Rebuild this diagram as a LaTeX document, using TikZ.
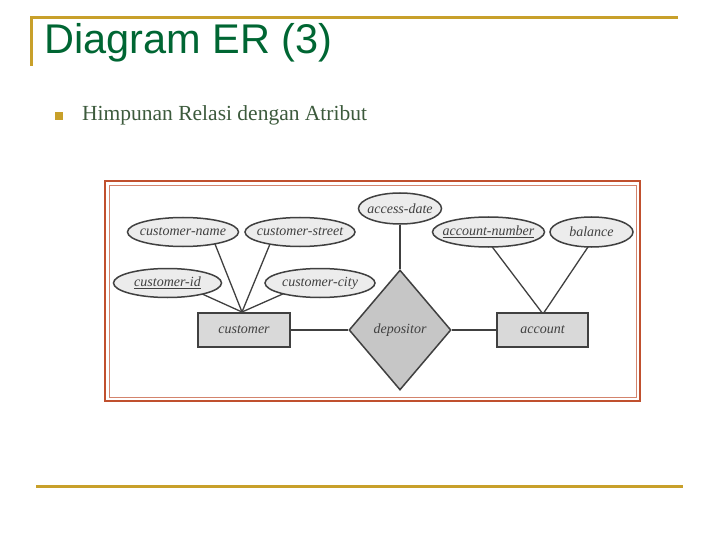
\documentclass[tikz,border=0pt]{standalone}
\usepackage{fontspec}
\setmainfont{Liberation Serif}
\newfontfamily\titlefont{Liberation Sans}
\usetikzlibrary{shapes.geometric}
\definecolor{gold}{HTML}{C8A02A}
\definecolor{titlegreen}{HTML}{006633}
\definecolor{bodygreen}{HTML}{3C5A3C}
\definecolor{frame}{HTML}{C0502E}
\definecolor{ink}{HTML}{404040}
\pgfdeclarelayer{bg}
\pgfdeclarelayer{links}
\pgfsetlayers{bg,links,main}
\tikzset{
  attr/.style={ellipse, draw=ink, line width=1.5pt, fill=gray!15, inner xsep=-20pt, inner ysep=0pt,
    minimum height=29pt, font=\fontsize{14}{14}\selectfont\itshape, text=ink},
  entity/.style={rectangle, draw=ink, line width=1.5pt, fill=gray!30, inner sep=0pt,
    minimum width=92pt, minimum height=34pt, font=\fontsize{14}{14}\selectfont\itshape, text=ink},
  rel/.style={diamond, draw=ink, line width=1.5pt, fill=gray!45, inner sep=0pt,
    minimum width=102pt, minimum height=120pt, font=\fontsize{14}{14}\selectfont\itshape, text=ink},
  link/.style={draw=ink, line width=1.3pt},
  goldline/.style={draw=gold, line width=3pt}
}
\begin{document}
\begin{tikzpicture}[x=1pt,y=-1pt]
\useasboundingbox (0,0) rectangle (720,540);
% slide decorations
\coordinate (tl) at (31,18);
\coordinate (tr) at (678,18);
\coordinate (tb) at (31,66);
\draw[goldline] (tr) -- (tl) -- (tb);
\coordinate (bl) at (36,486);
\coordinate (br) at (683,486);
\draw[goldline] (bl) -- (br);
\node[anchor=base west, inner sep=0pt, text=titlegreen, font=\titlefont\fontsize{41.5}{41.5}\selectfont] (title) at (44,54) {Diagram ER (3)};
\node[fill=gold, minimum size=8pt, inner sep=0pt] (bullet) at (59,116) {};
\node[anchor=base west, inner sep=0pt, text=bodygreen, font=\fontsize{21.5}{22}\selectfont] (sub) at (82,121) {Himpunan Relasi dengan Atribut};
% diagram frame
\begin{pgfonlayer}{bg}
\node[draw=frame, line width=2.5pt, fill=white, minimum width=535pt, minimum height=220pt, inner sep=0pt] (frameout) at (372.5,291) {};
\node[draw=frame!70, line width=0.8pt, minimum width=527pt, minimum height=212pt, inner sep=0pt] (framein) at (372.5,291) {};
\end{pgfonlayer}
% nodes
\node[attr, minimum width=111pt] (cname) at (183,232) {customer-name};
\node[attr, minimum width=110pt] (cstreet) at (300,232) {customer-street};
\node[attr, minimum width=108pt] (cid) at (167.5,283) {\underline{customer-id}};
\node[attr, minimum width=110pt] (ccity) at (320,283) {customer-city};
\node[attr, minimum width=83pt, minimum height=31pt] (adate) at (400,208.5) {access-date};
\node[attr, minimum width=112pt, minimum height=30pt] (anum) at (488.5,232) {\underline{account-number}};
\node[attr, minimum width=83pt, minimum height=30pt] (bal) at (591.5,232) {balance};
\node[entity] (cust) at (244,330) {customer};
\node[entity, minimum width=91pt] (acct) at (542.5,330) {account};
\node[rel] (dep) at (400,330) {depositor};
% connectors
\coordinate (ctop) at (242,312);
\coordinate (atop) at (543,314);
\coordinate (cn1) at (215,244);
\coordinate (cs1) at (270,244);
\coordinate (ci1) at (200,293);
\coordinate (cc1) at (285,293);
\coordinate (an1) at (490,244);
\coordinate (b1) at (590,244);
\begin{pgfonlayer}{links}
\draw[link] (cn1) -- (ctop);
\draw[link] (cs1) -- (ctop);
\draw[link] (ci1) -- (ctop);
\draw[link] (cc1) -- (ctop);
\draw[link] (an1) -- (atop);
\draw[link] (b1) -- (atop);
\draw[link] (adate) -- (dep);
\draw[link] (cust) -- (dep);
\draw[link] (dep) -- (acct);
\end{pgfonlayer}
\end{tikzpicture}
\end{document}
